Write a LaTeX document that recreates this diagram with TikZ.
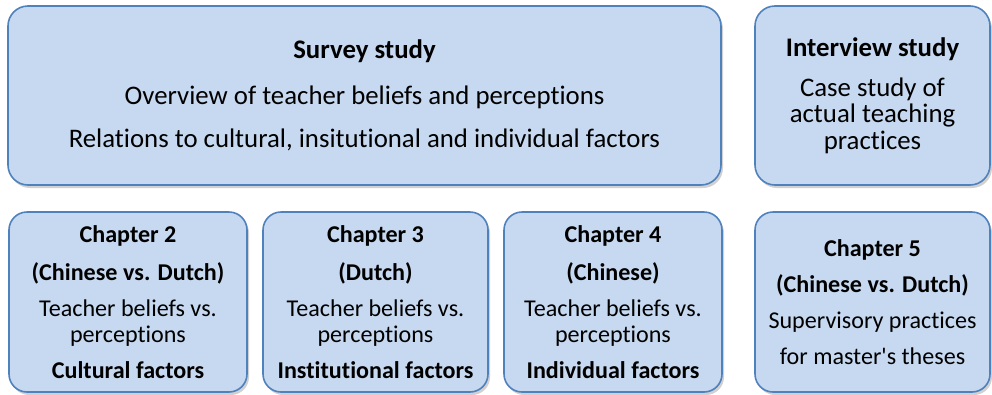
\documentclass[tikz,border=0pt]{standalone}
\usepackage{fontspec}
\setmainfont{Carlito}[Ligatures={CommonOff,TeXOff}]
\usetikzlibrary{shadows}
\definecolor{boxfill}{HTML}{C6D9F0}
\definecolor{boxline}{HTML}{4F81BD}
\begin{document}
\begin{tikzpicture}[x=1pt,y=-1pt,
  box/.style={draw=boxline, line width=1.6pt, fill=boxfill, rectangle,
    inner sep=0pt, align=center, text=black,
    drop shadow={shadow xshift=2pt, shadow yshift=-3pt, opacity=0.3, fill=black!60}},
  bigbox/.style={box, rounded corners=20pt, minimum height=179pt,
    font=\fontsize{26.8}{26.5}\selectfont},
  chapbox/.style={box, rounded corners=18pt, minimum height=180pt,
    font=\fontsize{24.1}{26}\selectfont}]
\useasboundingbox (0,0) rectangle (992,394);
\node[bigbox, minimum width=713pt] (survey) at (364.5,95.5)
  {\textbf{Survey study}\\[19pt]Overview of teacher beliefs and perceptions\\[17pt]Relations to cultural, insitutional and individual factors};
\node[bigbox, minimum width=235pt] (interview) at (872.5,95.5)
  {\textbf{Interview study}\\[13.5pt]Case study of\\actual teaching\\practices};
\node[chapbox, minimum width=238pt] (ch2) at (128,302)
  {\textbf{Chapter 2}\\[11.5pt]\textbf{(Chinese vs. Dutch)}\\[10pt]Teacher beliefs vs.\\perceptions\\[10pt]\textbf{Cultural factors}};
\node[chapbox, minimum width=225pt] (ch3) at (375.5,302)
  {\textbf{Chapter 3}\\[11.5pt]\textbf{(Dutch)}\\[10pt]Teacher beliefs vs.\\perceptions\\[10pt]\textbf{Institutional factors}};
\node[chapbox, minimum width=218pt] (ch4) at (613,302)
  {\textbf{Chapter 4}\\[11.5pt]\textbf{(Chinese)}\\[10pt]Teacher beliefs vs.\\perceptions\\[10pt]\textbf{Individual factors}};
\node[chapbox, minimum width=235pt] (ch5) at (872.5,302)
  {\textbf{Chapter 5}\\[10pt]\textbf{(Chinese vs. Dutch)}\\[10pt]Supervisory practices\\[10pt]for master's theses};
\end{tikzpicture}
\end{document}
